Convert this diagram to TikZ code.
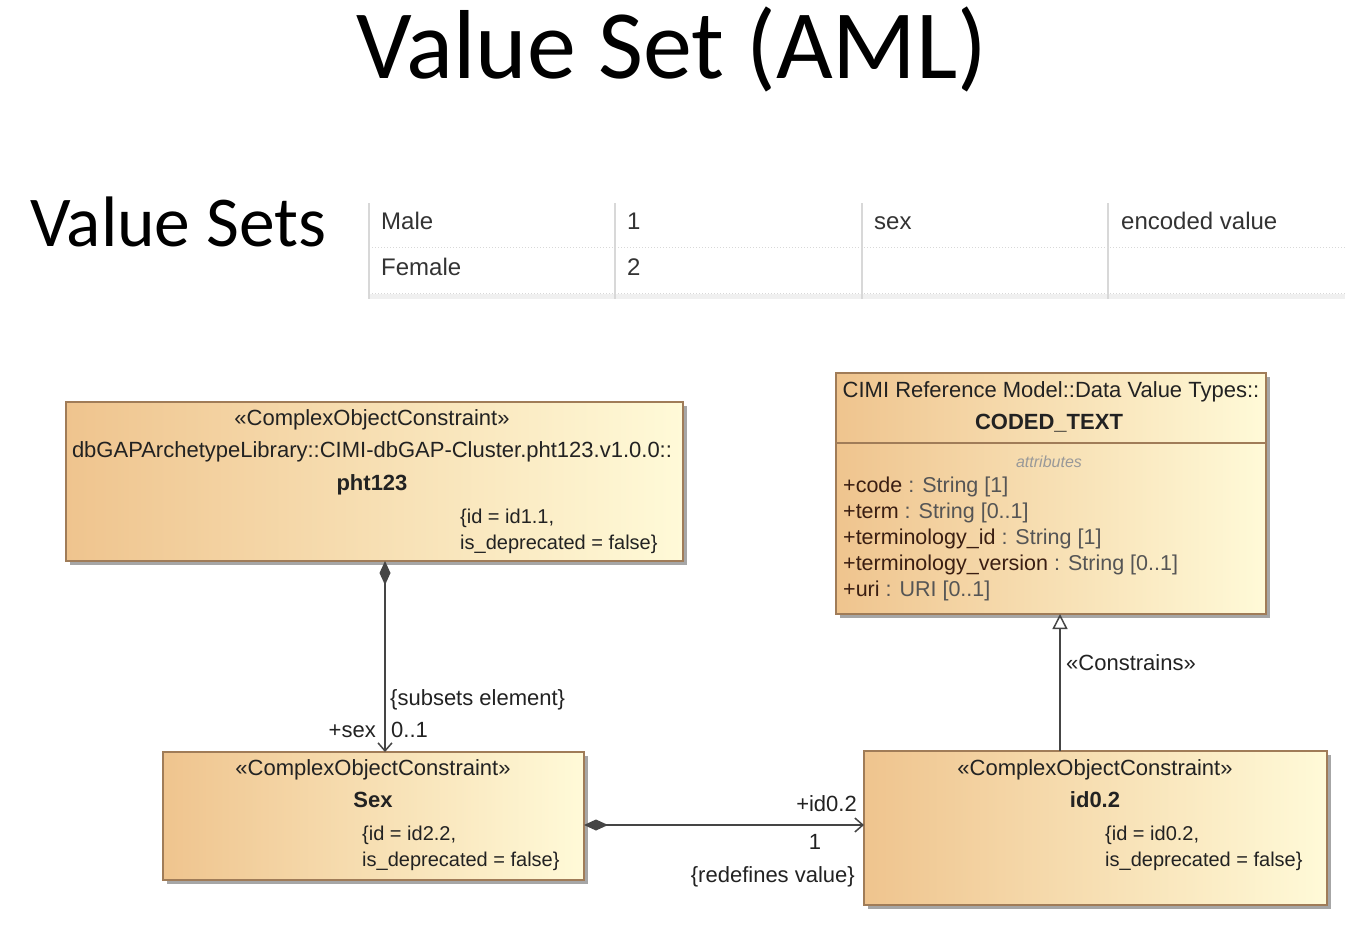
\documentclass[tikz,border=0pt]{standalone}
\usepackage{fontspec}
\setmainfont{Liberation Sans}
\newfontfamily\titlefont{Carlito}
\usetikzlibrary{arrows.meta,shadows}
\definecolor{boxL}{HTML}{EFC48E}
\definecolor{boxR}{HTML}{FFFAD8}
\definecolor{boxB}{HTML}{A07C58}
\definecolor{lineC}{HTML}{454545}
\definecolor{txt}{HTML}{222222}
\definecolor{attrN}{HTML}{3A1E12}
\definecolor{attrT}{HTML}{555555}
\definecolor{tabline}{HTML}{D8D8D8}
\definecolor{tabtxt}{HTML}{333333}
\begin{document}
\begin{tikzpicture}[x=1pt,y=-1pt,
  umlbox/.style={rectangle, draw=boxB, line width=1.5pt, left color=boxL, right color=boxR,
    inner sep=0pt, outer sep=0pt,
    drop shadow={shadow xshift=4pt, shadow yshift=-4pt, fill=black!35, opacity=1}},
  t/.style={inner sep=0pt, anchor=base, text=txt, font=\fontsize{22}{26}\selectfont},
  tb/.style={t, font=\fontsize{22}{26}\selectfont\bfseries},
  tid/.style={t, anchor=base west, font=\fontsize{20}{24}\selectfont},
  attr/.style={t, anchor=base west, font=\fontsize{21.5}{25}\selectfont},
  tab/.style={inner sep=0pt, anchor=base west, text=tabtxt, font=\fontsize{24}{28}\selectfont},
  conn/.style={draw=lineC, line width=1.5pt},
  comp/.style={conn, {Diamond[length=24pt,width=11pt,fill=lineC]}-{Straight Barb[length=8pt,width=14pt]}},
  gen/.style={conn, -{Triangle[open,length=15pt,width=15pt,fill=white]}}
]
\useasboundingbox (0,0) rectangle (1345,926);
\fill[white] (0,0) rectangle (1345,926);

% titles
\node[inner sep=0pt, anchor=base, font=\titlefont\fontsize{98}{102}\selectfont] (title) at (672,78) {Value Set (AML)};
\node[inner sep=0pt, anchor=base west, font=\titlefont\fontsize{71.5}{76}\selectfont] (vsets) at (30,246) {Value Sets};

% table
\fill[black!6] (369,294) rectangle (1345,299);
\foreach \x in {369,615,862,1108} \draw[tabline, line width=1.5pt] (\x,203) -- (\x,299);
\draw[tabline, dotted, line width=1pt] (369,247) -- (1345,247);
\draw[tabline, dotted, line width=1pt] (369,293) -- (1345,293);
\node[tab] (m1) at (381,229) {Male};
\node[tab] (m2) at (627,229) {1};
\node[tab] (m3) at (874,229) {sex};
\node[tab] (m4) at (1121,229) {encoded value};
\node[tab] (f1) at (381,275) {Female};
\node[tab] (f2) at (627,275) {2};

% boxes
\node[umlbox, minimum width=617pt, minimum height=159pt] (pht) at (374.5,481.5) {};
\node[umlbox, minimum width=430pt, minimum height=241pt] (coded) at (1051,493.5) {};
\node[umlbox, minimum width=421pt, minimum height=128pt] (sex) at (373.5,816) {};
\node[umlbox, minimum width=463pt, minimum height=154pt] (idb) at (1095.5,828) {};
\draw[boxB, line width=1.5pt] ([yshift=-70pt]coded.north west) -- ([yshift=-70pt]coded.north east);

% pht123 text
\node[t] (p1) at (372,425) {«ComplexObjectConstraint»};
\node[t] (p2) at (372,457) {dbGAPArchetypeLibrary::CIMI-dbGAP-Cluster.pht123.v1.0.0::};
\node[tb] (p3) at (372,490) {pht123};
\node[tid] (p4) at (460,523) {\{id = id1.1,};
\node[tid] (p5) at (460,549) {is\_deprecated = false\}};

% CODED_TEXT text
\node[t] (c1) at (1051,397) {CIMI Reference Model::Data Value Types::};
\node[tb] (c2) at (1049,429) {CODED\_TEXT};
\node[t, text=black!40, font=\fontsize{16}{19}\selectfont\itshape] (c3) at (1049,467) {attributes};
\node[attr] (a1) at (843,492) {\textcolor{attrN}{+code} \textcolor{attrT}{: String [1]}};
\node[attr] (a2) at (843,518) {\textcolor{attrN}{+term} \textcolor{attrT}{: String [0..1]}};
\node[attr] (a3) at (843,544) {\textcolor{attrN}{+terminology\_id} \textcolor{attrT}{: String [1]}};
\node[attr] (a4) at (843,570) {\textcolor{attrN}{+terminology\_version} \textcolor{attrT}{: String [0..1]}};
\node[attr] (a5) at (843,596) {\textcolor{attrN}{+uri} \textcolor{attrT}{: URI [0..1]}};

% Sex text
\node[t] (s1) at (373,775) {«ComplexObjectConstraint»};
\node[tb] (s2) at (373,807) {Sex};
\node[tid] (s3) at (362,840) {\{id = id2.2,};
\node[tid] (s4) at (362,866) {is\_deprecated = false\}};

% id0.2 text
\node[t] (i1) at (1095,775) {«ComplexObjectConstraint»};
\node[tb] (i2) at (1095,807) {id0.2};
\node[tid] (i3) at (1105,840) {\{id = id0.2,};
\node[tid] (i4) at (1105,866) {is\_deprecated = false\}};

% connectors
\draw[comp] ([xshift=10.5pt]pht.south) -- ([xshift=11.5pt]sex.north);
\draw[comp] ([yshift=-9pt]sex.east) -- ([yshift=-9pt]sex.east -| idb.west);
\draw[gen] ([xshift=-35.5pt]idb.north) -- ([xshift=-35.5pt]idb.north |- coded.south);

% connector labels
\node[t, anchor=base west] (l1) at (390,705) {\{subsets element\}};
\node[t, anchor=base east] (l2) at (376,737) {+sex};
\node[t, anchor=base west] (l3) at (391,737) {0..1};
\node[t, anchor=base east] (l4) at (857,811) {+id0.2};
\node[t] (l5) at (815,849) {1};
\node[t, anchor=base east] (l6) at (855,882) {\{redefines value\}};
\node[t, anchor=base west] (l7) at (1066,670) {«Constrains»};
\end{tikzpicture}
\end{document}
